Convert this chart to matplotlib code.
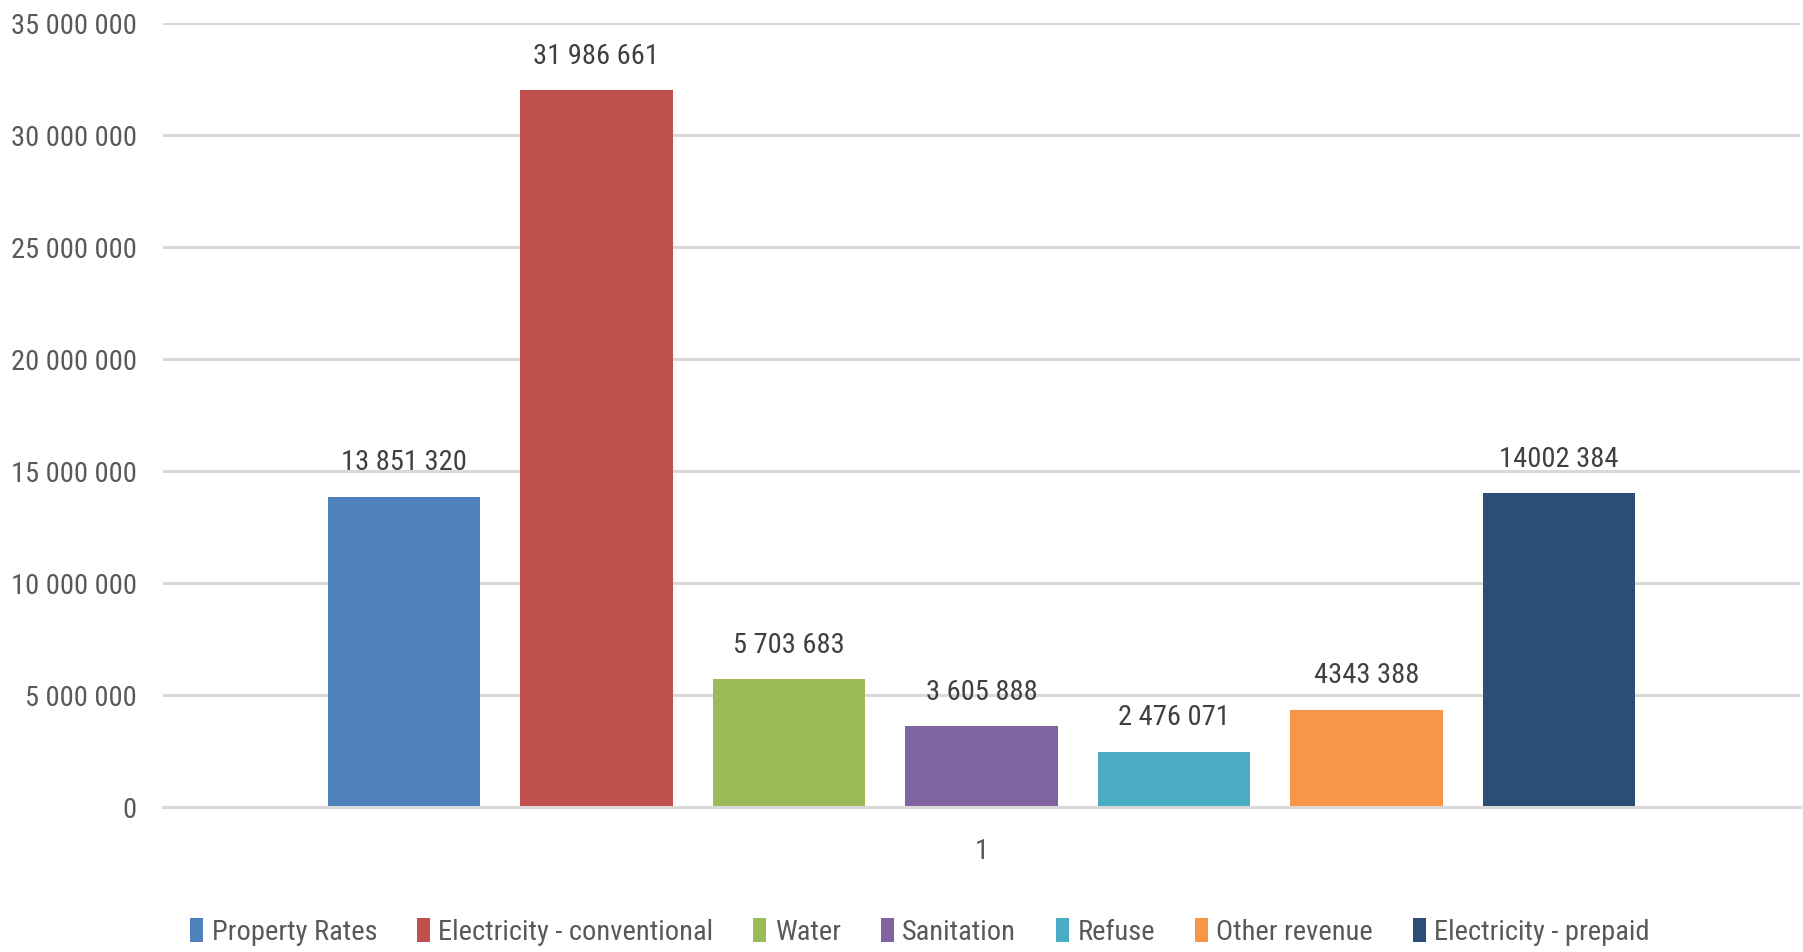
import matplotlib.pyplot as plt

names = ['Property Rates', 'Electricity - conventional', 'Water', 'Sanitation',
         'Refuse', 'Other revenue', 'Electricity - prepaid']
values = [13851320, 31986661, 5703683, 3605888, 2476071, 4343388, 14002384]
labels = ['13 851 320', '31 986 661', '5 703 683', '3 605 888', '2 476 071', '4343 388', '14002 384']
colors = ['#4F81BD', '#C0504D', '#9BBB59', '#8064A2', '#4BACC6', '#F79646', '#2C4D75']
yticks = [0, 5e6, 10e6, 15e6, 20e6, 25e6, 30e6, 35e6]

plt.rcParams['font.family'] = ['Roboto Condensed', 'DejaVu Sans']
txt = '#595959'
fs = 20.5

fig = plt.figure(figsize=(18.03, 9.52), dpi=100)
ax = fig.add_axes([163/1803, 145/952, 1637/1803, 784/952])

step = 0.1176
width = 0.093
for i, (n, v, c, l) in enumerate(zip(names, values, colors, labels)):
    x = 1 + (i - 3) * step
    ax.bar(x, v, width, color=c, label=n, zorder=3)
    ax.annotate(l, (x, v), xytext=(0, 19), textcoords='offset points',
                ha='center', va='baseline', fontsize=fs, color='#404040')

ax.set_xlim(0.5, 1.5)
ax.set_ylim(0, 35e6)
ax.set_yticks(yticks)
ax.set_yticklabels(['{:,.0f}'.format(t).replace(',', ' ') for t in yticks])
ax.set_xticks([1])
ax.set_xticklabels(['1'])
ax.tick_params(axis='y', length=0, pad=19, labelsize=fs, labelcolor=txt)
ax.tick_params(axis='x', length=0, pad=22, labelsize=fs, labelcolor=txt)
ax.grid(axis='y', color='#D9D9D9', linewidth=2.2, zorder=0)
for s in ['top', 'right', 'left']:
    ax.spines[s].set_visible(False)
ax.spines['bottom'].set_color('#D9D9D9')
ax.spines['bottom'].set_linewidth(2.2)
ax.spines['bottom'].set_zorder(4)

fig.legend(loc='center', bbox_to_anchor=(920/1803, 1 - 932/952), ncol=7, frameon=False,
           fontsize=fs, labelcolor=txt, handlelength=0.45, handleheight=0.9,
           handletextpad=0.3, columnspacing=1.4)

fig.savefig('out.png', dpi=100)
